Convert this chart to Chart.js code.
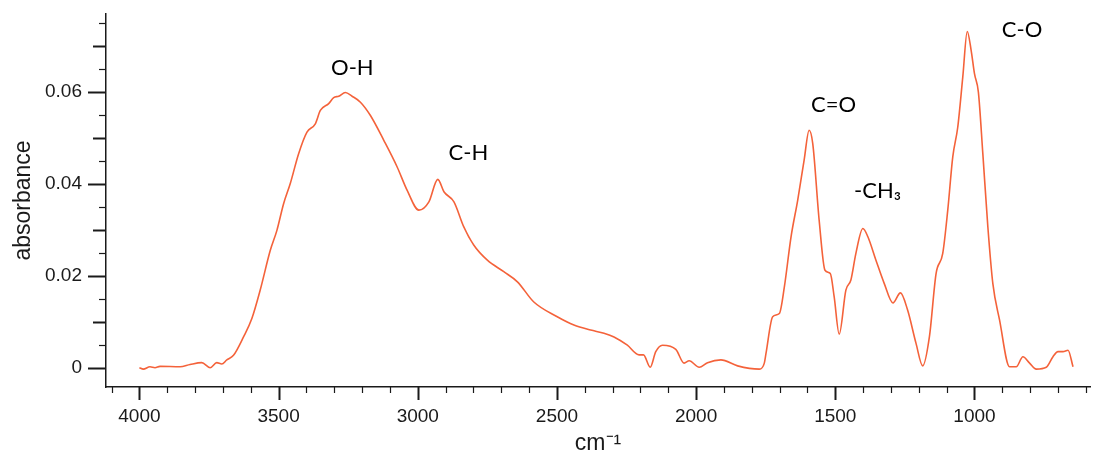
<!DOCTYPE html>
<html>
<head>
<meta charset="utf-8">
<title>IR spectrum</title>
<script src="https://cdn.jsdelivr.net/npm/chart.js@4/dist/chart.umd.min.js"></script>
<style>
  html, body { margin: 0; padding: 0; background: #fff; }
  canvas { display: block; }
</style>
</head>
<body>
<canvas id="spectrum" width="1093" height="457"></canvas>
<script>
// wavenumber (cm-1) and absorbance
var wavenumbers = [4000, 3986, 3962, 3944, 3926, 3854, 3818, 3776, 3746, 3722, 3704, 3686, 3662,
    3626, 3596, 3566, 3530, 3506, 3482, 3458, 3428, 3398, 3368, 3350, 3320, 3302, 3284, 3260,
    3236, 3206, 3170, 3122, 3074, 3038, 2996, 2960, 2928, 2906, 2870, 2835, 2799, 2750, 2691,
    2642, 2583, 2499, 2439, 2379, 2331, 2295, 2247, 2205, 2189, 2165, 2145, 2121, 2073, 2043,
    2025, 1989, 1959, 1911, 1851, 1773, 1755, 1749, 1725, 1701, 1683, 1659, 1635, 1612, 1594,
    1581, 1558, 1537, 1518, 1504, 1486, 1462, 1444, 1426, 1401, 1383, 1354, 1324, 1293, 1266,
    1240, 1210, 1186, 1162, 1138, 1114, 1096, 1078, 1060, 1042, 1026, 1012, 1000, 986, 970,
    952, 934, 910, 874, 850, 826, 802, 778, 742, 718, 700, 682, 664, 646];
var absorbance = [0.0000, -0.0003, 0.0002, 0.0000, 0.0003, 0.0002, 0.0007, 0.0011, 0.0000, 0.0011,
    0.0008, 0.0017, 0.0027, 0.0067, 0.0107, 0.0169, 0.0255, 0.0299, 0.0357, 0.0401, 0.0466,
    0.0513, 0.0531, 0.0560, 0.0575, 0.0588, 0.0591, 0.0599, 0.0591, 0.0578, 0.0549, 0.0495,
    0.0437, 0.0386, 0.0343, 0.0361, 0.0410, 0.0383, 0.0361, 0.0307, 0.0267, 0.0234, 0.0209,
    0.0187, 0.0143, 0.0111, 0.0093, 0.0082, 0.0075, 0.0067, 0.0049, 0.0028, 0.0028, 0.0001,
    0.0035, 0.0049, 0.0040, 0.0010, 0.0015, 0.0001, 0.0011, 0.0017, 0.0004, -0.0003, 0.0010,
    0.0031, 0.0111, 0.0118, 0.0176, 0.0285, 0.0365, 0.0452, 0.0517, 0.0488, 0.0321, 0.0212,
    0.0205, 0.0154, 0.0073, 0.0169, 0.0191, 0.0249, 0.0303, 0.0285, 0.0234, 0.0183, 0.0141,
    0.0163, 0.0125, 0.0053, 0.0004, 0.0067, 0.0205, 0.0249, 0.0343, 0.0459, 0.0524, 0.0633,
    0.0732, 0.0691, 0.0640, 0.0600, 0.0466, 0.0307, 0.0183, 0.0104, 0.0002, 0.0002, 0.0024,
    0.0010, -0.0003, 0.0001, 0.0024, 0.0035, 0.0035, 0.0038, 0.0002];

// band assignments, placed at (wavenumber, absorbance)
var bandNames = ['O-H', 'C-H', 'C=O', '-CH\u2083', 'C-O'];
var bandWavenumbers = [3235, 2818, 1506, 1348, 829];
var bandHeights = [0.0653, 0.0468, 0.0572, 0.0384, 0.0736];

var xTickValues = [];
for (var w = 600; w <= 4100; w += 100) xTickValues.push(w);
var yTickValues = [];
for (var i = 0; i <= 15; i++) yTickValues.push(Math.round(i * 5) / 1000);

var axisColor = '#1a1a1a';

// tick marks of three lengths, drawn against the scales
var tickMarks = {
    id: 'tickMarks',
    afterDraw: function(chart) {
        var c = chart.ctx, xs = chart.scales.x, ys = chart.scales.y;
        c.save();
        c.strokeStyle = axisColor;
        xTickValues.forEach(function(v) {
            var px = Math.round(xs.getPixelForValue(v)) + 0.5;
            var major = v % 500 === 0;
            c.lineWidth = major ? 2 : 1.2;
            c.beginPath();
            c.moveTo(px, xs.top);
            c.lineTo(px, xs.top + (major ? 13 : 6));
            c.stroke();
        });
        yTickValues.forEach(function(v) {
            var py = Math.round(ys.getPixelForValue(v)) + 0.5;
            var k = Math.round(v * 1000);
            var len = k % 20 === 0 ? 18 : (k % 10 === 0 ? 13 : 7);
            c.lineWidth = k % 10 === 0 ? 2 : 1.2;
            c.beginPath();
            c.moveTo(ys.right, py);
            c.lineTo(ys.right - len, py);
            c.stroke();
        });
        c.restore();
    }
};

// band labels
var bandLabels = {
    id: 'bandLabels',
    afterDraw: function(chart) {
        var c = chart.ctx, xs = chart.scales.x, ys = chart.scales.y;
        c.save();
        c.fillStyle = '#000';
        c.font = '22px Lato, "Open Sans", sans-serif';
        c.textAlign = 'center';
        c.textBaseline = 'middle';
        bandNames.forEach(function(name, i) {
            c.fillText(name, xs.getPixelForValue(bandWavenumbers[i]), ys.getPixelForValue(bandHeights[i]));
        });
        c.restore();
    }
};

var points = wavenumbers.map(function(w, i) { return {x: w, y: absorbance[i]}; });

var ctx = document.getElementById('spectrum').getContext('2d');
var chart = new Chart(ctx, {
    type: 'line',
    data: {
        datasets: [{
            data: points,
            borderColor: '#f4623a',
            borderWidth: 1.6,
            pointRadius: 0,
            fill: false,
            cubicInterpolationMode: 'monotone'
        }]
    },
    options: {
        responsive: false,
        animation: false,
        devicePixelRatio: 1,
        layout: { padding: { top: 14, right: 3, left: 0, bottom: 0 } },
        plugins: { legend: { display: false }, tooltip: { enabled: false } },
        scales: {
            x: {
                type: 'linear',
                reverse: true,
                min: 585,
                max: 4120,
                grid: { display: false },
                border: { display: true, color: axisColor, width: 1.5 },
                afterBuildTicks: function(scale) {
                    scale.ticks = xTickValues.map(function(v) { return {value: v}; });
                },
                afterFit: function(scale) {
                    scale.height = 70;
                    scale.paddingLeft = 0;
                    scale.paddingRight = 0;
                },
                ticks: {
                    autoSkip: false,
                    maxRotation: 0,
                    padding: 10,
                    color: axisColor,
                    font: { family: '"Liberation Sans", Arial, sans-serif', size: 19 },
                    callback: function(v) { return v % 500 === 0 ? String(v) : ''; }
                },
                title: {
                    display: true,
                    text: 'cm\u207B\u00B9',
                    color: axisColor,
                    padding: { top: 0, bottom: 0 },
                    font: { family: '"Liberation Sans", Arial, sans-serif', size: 23 }
                }
            },
            y: {
                min: -0.0042,
                max: 0.077,
                grid: { display: false },
                border: { display: true, color: axisColor, width: 1.5 },
                afterBuildTicks: function(scale) {
                    scale.ticks = yTickValues.map(function(v) { return {value: v}; });
                },
                afterFit: function(scale) {
                    scale.width = 106;
                    scale.paddingTop = 0;
                    scale.paddingBottom = 0;
                },
                ticks: {
                    autoSkip: false,
                    padding: 16,
                    color: axisColor,
                    font: { family: '"Liberation Sans", Arial, sans-serif', size: 19 },
                    callback: function(v) {
                        var k = Math.round(v * 1000);
                        if (k % 20 !== 0) return '';
                        return k === 0 ? '0' : (k / 1000).toFixed(2);
                    }
                },
                title: {
                    display: true,
                    text: 'absorbance',
                    color: axisColor,
                    padding: { top: 10, bottom: 0 },
                    font: { family: '"Liberation Sans", Arial, sans-serif', size: 23 }
                }
            }
        }
    },
    plugins: [tickMarks, bandLabels]
});
</script>
</body>
</html>
